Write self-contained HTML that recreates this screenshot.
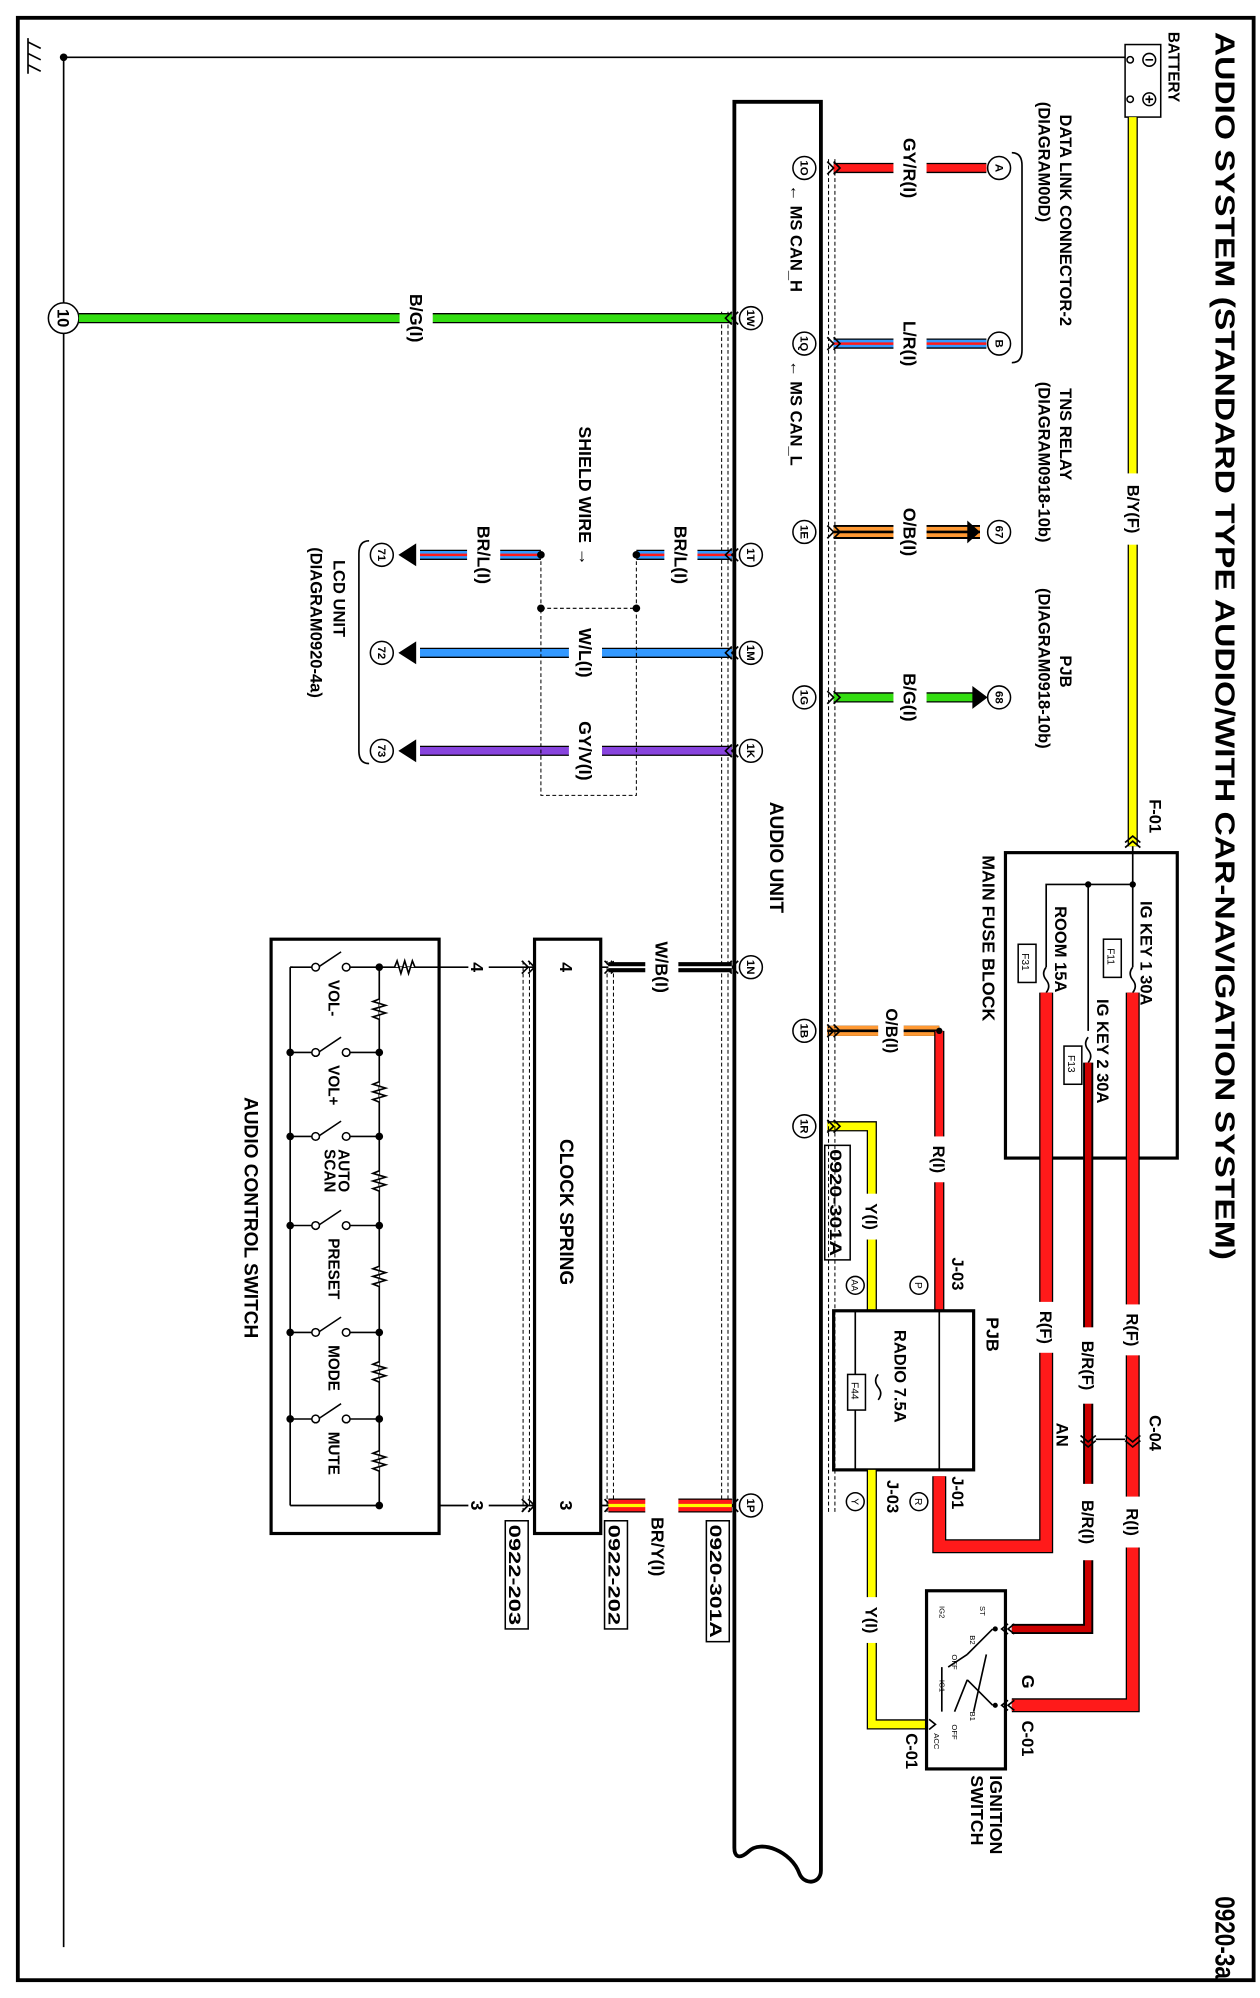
<!DOCTYPE html>
<html><head><meta charset="utf-8"><style>
html,body{margin:0;padding:0;background:#fff}
svg{display:block}
text{font-family:"Liberation Sans",Arial,sans-serif;fill:#000}
.o{stroke:#000;fill:none;stroke-width:8}
.o2{stroke:#000;fill:none;stroke-width:11}
.t{stroke:#000;fill:none;stroke-width:1.3}
.r{stroke:#ff1a1a;fill:none;stroke-width:6}
.rb{stroke:#ff1a1a;fill:none;stroke-width:9}
.y{stroke:#ffff00;fill:none;stroke-width:6}
.g{stroke:#33dd11;fill:none;stroke-width:6}
.b{stroke:#3399ff;fill:none;stroke-width:6}
.or{stroke:#ff9933;fill:none;stroke-width:8}
.p{stroke:#8844dd;fill:none;stroke-width:6}
.dr{stroke:#cc0000;fill:none;stroke-width:5}
.sk{stroke:#000;fill:none;stroke-width:2}
.sr{stroke:#ff1a1a;fill:none;stroke-width:2}
.sy{stroke:#ffff00;fill:none;stroke-width:2.5}
.sw{stroke:#fff;fill:none;stroke-width:1.5}
.d{stroke:#000;fill:none;stroke-width:0.8;stroke-dasharray:3,2}
.c{fill:#fff;stroke:#000;stroke-width:1.2}
</style></head><body>
<svg width="1260" height="1998" viewBox="0 0 990 1570" preserveAspectRatio="none" xmlns="http://www.w3.org/2000/svg">
<rect x="14" y="14" width="971" height="1542" fill="none" stroke="#000" stroke-width="3"/>
<text transform="translate(955,25) rotate(90)" font-size="22" font-weight="bold" textLength="965" lengthAdjust="spacingAndGlyphs">AUDIO SYSTEM (STANDARD TYPE AUDIO/WITH CAR-NAVIGATION SYSTEM)</text>
<text transform="translate(955,1490) rotate(90)" font-size="22" font-weight="bold" textLength="65" lengthAdjust="spacingAndGlyphs">0920-3a</text>

<!-- ground -->
<path d="M50 45 H885 M50 45 V1530" class="t"/>
<circle cx="50" cy="45" r="3"/>
<path d="M22 30 V58 M22 33 L32 38 M22 42 L32 47 M22 51 L32 56" class="t" stroke-width="2"/>
<circle cx="50" cy="250" r="12" class="c"/>
<text transform="translate(45,250) rotate(90)" font-size="13" font-weight="bold" text-anchor="middle">10</text>

<!-- battery -->
<rect x="884" y="35" width="28" height="57" class="c" stroke-width="2"/>
<circle cx="903" cy="47" r="5" class="c"/><path d="M900 47 H906" class="t"/>
<circle cx="903" cy="78" r="5" class="c"/><path d="M900 78 H906 M903 75 V81" class="t"/>
<circle cx="888" cy="47" r="2.5" class="c"/><circle cx="888" cy="78" r="2.5" class="c"/>
<text transform="translate(918,25) rotate(90)" font-size="12" font-weight="bold">BATTERY</text>

<!-- B/Y(F) -->
<path d="M890 92 V665" class="o"/><path d="M890 92 V665" class="y"/>
<rect x="882" y="372" width="18" height="56" fill="#fff"/>
<text transform="translate(886,400) rotate(90)" font-size="13" font-weight="bold" text-anchor="middle">B/Y(F)</text>
<text transform="translate(903,628) rotate(90)" font-size="13" font-weight="bold">F-01</text>
<path d="M884 662 l6 -5 l6 5 M884 666 l6 -5 l6 5" class="t"/>

<!-- main fuse block -->
<rect x="790" y="670" width="135" height="240" fill="none" stroke="#000" stroke-width="2.5"/>
<path d="M890 665 V760 M890 695 H822 V760 M855 695 V810" class="t"/>
<circle cx="890" cy="695" r="2.5"/><circle cx="855" cy="695" r="2.5"/>
<path d="M890 760 q-4 5 0 10 q4 5 0 10 M822 760 q-4 5 0 10 q4 5 0 10 M855 815 q-4 5 0 10 q4 5 0 10" class="t"/>
<rect x="867" y="738" width="14" height="30" class="c"/><text transform="translate(870,745) rotate(90)" font-size="8">F11</text>
<rect x="800" y="742" width="14" height="30" class="c"/><text transform="translate(803,749) rotate(90)" font-size="8">F31</text>
<rect x="836" y="822" width="14" height="30" class="c"/><text transform="translate(839,829) rotate(90)" font-size="8">F13</text>
<text transform="translate(896,708) rotate(90)" font-size="13" font-weight="bold">IG KEY 1 30A</text>
<text transform="translate(862,785) rotate(90)" font-size="13" font-weight="bold">IG KEY 2 30A</text>
<text transform="translate(829,712) rotate(90)" font-size="13" font-weight="bold">ROOM 15A</text>
<text transform="translate(772,672) rotate(90)" font-size="14" font-weight="bold">MAIN FUSE BLOCK</text>

<!-- red feeds -->
<path d="M890 780 V1340 H795" class="o2"/><path d="M890 780 V1340 H795" class="rb"/>
<path d="M855 835 V1280 H795" class="o"/><path d="M855 835 V1280 H795" class="dr"/>
<path d="M822 780 V1215 H738 V1160" class="o2"/><path d="M822 780 V1215 H738 V1160" class="rb"/>
<rect x="880" y="1025" width="20" height="40" fill="#fff"/><text transform="translate(885,1045) rotate(90)" font-size="13" font-weight="bold" text-anchor="middle">R(F)</text>
<rect x="845" y="1043" width="20" height="60" fill="#fff"/><text transform="translate(850,1073) rotate(90)" font-size="13" font-weight="bold" text-anchor="middle">B/R(F)</text>
<rect x="812" y="1023" width="20" height="40" fill="#fff"/><text transform="translate(817,1043) rotate(90)" font-size="13" font-weight="bold" text-anchor="middle">R(F)</text>
<rect x="880" y="1176" width="20" height="40" fill="#fff"/><text transform="translate(885,1196) rotate(90)" font-size="13" font-weight="bold" text-anchor="middle">R(I)</text>
<rect x="845" y="1166" width="20" height="60" fill="#fff"/><text transform="translate(850,1196) rotate(90)" font-size="13" font-weight="bold" text-anchor="middle">B/R(I)</text>
<path d="M849 1128 l6 5 l6 -5 M849 1132 l6 5 l6 -5 M884 1128 l6 5 l6 -5 M884 1132 l6 5 l6 -5 M861 1131 H884" class="t"/>
<text transform="translate(903,1112) rotate(90)" font-size="13" font-weight="bold">C-04</text>
<text transform="translate(830,1118) rotate(90)" font-size="13" font-weight="bold">AN</text>

<!-- O/B and R(I) to PJB -->
<path d="M650 810 H738" class="o"/><path d="M650 810 H738" class="or"/><path d="M650 810 H738" class="sk"/>
<path d="M738 810 V1030" class="o"/><path d="M738 810 V1030" class="r"/>
<circle cx="738" cy="810" r="2.5"/>
<rect x="690" y="785" width="20" height="50" fill="#fff"/><text transform="translate(696,810) rotate(90)" font-size="13" font-weight="bold" text-anchor="middle">O/B(I)</text>
<rect x="728" y="893" width="20" height="36" fill="#fff"/><text transform="translate(733,911) rotate(90)" font-size="13" font-weight="bold" text-anchor="middle">R(I)</text>
<path d="M650 885 H685 V1030" class="o"/><path d="M650 885 H685 V1030" class="y"/>
<rect x="675" y="938" width="20" height="36" fill="#fff"/><text transform="translate(680,956) rotate(90)" font-size="13" font-weight="bold" text-anchor="middle">Y(I)</text>
<rect x="648" y="900" width="20" height="90" class="c"/><text transform="translate(652,903) rotate(90)" font-size="13" font-weight="bold" textLength="84" lengthAdjust="spacingAndGlyphs">0920-301A</text>
<text transform="translate(748,988) rotate(90)" font-size="13" font-weight="bold">J-03</text>
<circle cx="722" cy="1010" r="7" class="c"/><text transform="translate(719,1010) rotate(90)" font-size="8" text-anchor="middle">P</text>
<circle cx="672" cy="1010" r="7" class="c"/><text transform="translate(669,1010) rotate(90)" font-size="7" text-anchor="middle">AA</text>

<!-- PJB -->
<rect x="655" y="1030" width="110" height="125" fill="none" stroke="#000" stroke-width="2.5"/>
<path d="M672 1030 V1155 M738 1030 V1155" class="t"/>
<text transform="translate(775,1035) rotate(90)" font-size="14" font-weight="bold">PJB</text>
<text transform="translate(703,1045) rotate(90)" font-size="13" font-weight="bold">RADIO 7.5A</text>
<path d="M690 1080 q-4 5 0 10 q4 5 0 10" class="t"/>
<rect x="666" y="1080" width="14" height="28" class="c"/><text transform="translate(669,1086) rotate(90)" font-size="8">F44</text>
<text transform="translate(748,1160) rotate(90)" font-size="13" font-weight="bold">J-01</text>
<text transform="translate(697,1163) rotate(90)" font-size="13" font-weight="bold">J-03</text>
<circle cx="722" cy="1180" r="7" class="c"/><text transform="translate(719,1180) rotate(90)" font-size="8" text-anchor="middle">R</text>
<circle cx="672" cy="1180" r="7" class="c"/><text transform="translate(669,1180) rotate(90)" font-size="8" text-anchor="middle">Y</text>
<path d="M685 1155 V1355 H728" class="o"/><path d="M685 1155 V1355 H728" class="y"/>
<rect x="675" y="1255" width="20" height="36" fill="#fff"/><text transform="translate(680,1273) rotate(90)" font-size="13" font-weight="bold" text-anchor="middle">Y(I)</text>

<!-- ignition switch -->
<rect x="728" y="1250" width="62" height="140" fill="#fff" stroke="#000" stroke-width="2.5"/>
<path d="M780 1280 L760 1300 M780 1340 L760 1320 M760 1300 L745 1310 M760 1320 L750 1345 M740 1310 V1345 M775 1300 L765 1345" class="t"/>
<circle cx="782" cy="1280" r="2"/><circle cx="782" cy="1340" r="2"/>
<text transform="translate(770,1262) rotate(90)" font-size="6">ST</text>
<text transform="translate(738,1262) rotate(90)" font-size="6">IG2</text>
<text transform="translate(762,1285) rotate(90)" font-size="6">B2</text>
<text transform="translate(748,1300) rotate(90)" font-size="6">OFF</text>
<text transform="translate(738,1320) rotate(90)" font-size="6">IG1</text>
<text transform="translate(762,1345) rotate(90)" font-size="6">B1</text>
<text transform="translate(748,1355) rotate(90)" font-size="6">OFF</text>
<text transform="translate(734,1362) rotate(90)" font-size="6">ACC</text>
<path d="M792 1276 l-5 4 l5 4 M797 1276 l-5 4 l5 4 M792 1336 l-5 4 l5 4 M797 1336 l-5 4 l5 4 M730 1351 l5 4 l-5 4" class="t"/>
<text transform="translate(803,1316) rotate(90)" font-size="14" font-weight="bold">G</text>
<text transform="translate(803,1352) rotate(90)" font-size="13" font-weight="bold">C-01</text>
<text transform="translate(712,1362) rotate(90)" font-size="13" font-weight="bold">C-01</text>
<text transform="translate(778,1395) rotate(90)" font-size="14" font-weight="bold">IGNITION</text>
<text transform="translate(763,1395) rotate(90)" font-size="14" font-weight="bold">SWITCH</text>

<!-- audio unit -->
<path d="M577 80 H645 V1470 C645 1480 632 1482 628 1472 C622 1455 598 1445 588 1455 C580 1462 577 1458 577 1452 Z" fill="none" stroke="#000" stroke-width="3"/>
<text transform="translate(605,630) rotate(90)" font-size="15" font-weight="bold">AUDIO UNIT</text>
<path d="M651 125 V1190 M656 125 V1190 M567 245 V1190 M572 245 V1190 M477 755 V1190 M482 755 V1190 M411 755 V1190 M416 755 V1190" class="d"/>

<!-- pins -->
<g font-size="9" font-weight="bold" text-anchor="middle">
<circle cx="632" cy="132" r="9" class="c"/><text transform="translate(629,132) rotate(90)">1O</text>
<circle cx="632" cy="270" r="9" class="c"/><text transform="translate(629,270) rotate(90)">1Q</text>
<circle cx="632" cy="418" r="9" class="c"/><text transform="translate(629,418) rotate(90)">1E</text>
<circle cx="632" cy="548" r="9" class="c"/><text transform="translate(629,548) rotate(90)">1G</text>
<circle cx="632" cy="810" r="9" class="c"/><text transform="translate(629,810) rotate(90)">1B</text>
<circle cx="632" cy="885" r="9" class="c"/><text transform="translate(629,885) rotate(90)">1R</text>
<circle cx="590" cy="250" r="9" class="c"/><text transform="translate(587,250) rotate(90)">1W</text>
<circle cx="590" cy="436" r="9" class="c"/><text transform="translate(587,436) rotate(90)">1T</text>
<circle cx="590" cy="513" r="9" class="c"/><text transform="translate(587,513) rotate(90)">1M</text>
<circle cx="590" cy="590" r="9" class="c"/><text transform="translate(587,590) rotate(90)">1K</text>
<circle cx="590" cy="760" r="9" class="c"/><text transform="translate(587,760) rotate(90)">1N</text>
<circle cx="590" cy="1183" r="9" class="c"/><text transform="translate(587,1183) rotate(90)">1P</text>
<circle cx="785" cy="132" r="9" class="c"/><text transform="translate(782,132) rotate(90)">A</text>
<circle cx="785" cy="270" r="9" class="c"/><text transform="translate(782,270) rotate(90)">B</text>
<circle cx="785" cy="418" r="9" class="c"/><text transform="translate(782,418) rotate(90)">67</text>
<circle cx="785" cy="548" r="9" class="c"/><text transform="translate(782,548) rotate(90)">68</text>
<circle cx="300" cy="436" r="9" class="c"/><text transform="translate(297,436) rotate(90)">71</text>
<circle cx="300" cy="513" r="9" class="c"/><text transform="translate(297,513) rotate(90)">72</text>
<circle cx="300" cy="590" r="9" class="c"/><text transform="translate(297,590) rotate(90)">73</text>
</g>
<text transform="translate(621,145) rotate(90)" font-size="13" font-weight="bold">← MS CAN_H</text>
<text transform="translate(621,283) rotate(90)" font-size="13" font-weight="bold">← MS CAN_L</text>

<!-- right wires -->
<path d="M655 132 H775" class="o"/><path d="M655 132 H775" class="r"/>
<path d="M655 270 H775" class="o"/><path d="M655 270 H775" class="b"/><path d="M655 270 H775" class="sr"/>
<path d="M655 418 H770" class="o2"/><path d="M655 418 H770" class="or"/><path d="M655 418 H770" class="sk"/>
<path d="M655 548 H765" class="o"/><path d="M655 548 H765" class="g"/>
<path d="M770 418 l-10 -9 v18 z"/><path d="M776 548 l-12 -9 v18 z"/>
<g font-size="14" font-weight="bold" text-anchor="middle">
<rect x="702" y="100" width="26" height="64" fill="#fff"/><text transform="translate(710,132) rotate(90)">GY/R(I)</text>
<rect x="702" y="245" width="26" height="50" fill="#fff"/><text transform="translate(710,270) rotate(90)">L/R(I)</text>
<rect x="702" y="390" width="26" height="56" fill="#fff"/><text transform="translate(710,418) rotate(90)">O/B(I)</text>
<rect x="702" y="520" width="26" height="56" fill="#fff"/><text transform="translate(710,548) rotate(90)">B/G(I)</text>
</g>
<path d="M655 127 l5 5 l-5 5 M650 127 l5 5 l-5 5 M655 265 l5 5 l-5 5 M650 265 l5 5 l-5 5 M655 413 l5 5 l-5 5 M650 413 l5 5 l-5 5 M655 543 l5 5 l-5 5 M650 543 l5 5 l-5 5 M655 805 l5 5 l-5 5 M650 805 l5 5 l-5 5 M655 880 l5 5 l-5 5 M650 880 l5 5 l-5 5" class="t"/>
<path d="M795 120 q8 0 8 10 V275 q0 10 -8 10" class="t"/>
<text transform="translate(833,90) rotate(90)" font-size="13" font-weight="bold">DATA LINK CONNECTOR-2</text>
<text transform="translate(816,80) rotate(90)" font-size="13" font-weight="bold">(DIAGRAM00D)</text>
<text transform="translate(833,305) rotate(90)" font-size="13" font-weight="bold">TNS RELAY</text>
<text transform="translate(816,300) rotate(90)" font-size="13" font-weight="bold">(DIAGRAM0918-10b)</text>
<text transform="translate(833,515) rotate(90)" font-size="13" font-weight="bold">PJB</text>
<text transform="translate(816,462) rotate(90)" font-size="13" font-weight="bold">(DIAGRAM0918-10b)</text>

<!-- left wires -->
<path d="M62 250 H575" class="o"/><path d="M62 250 H575" class="g"/>
<rect x="314" y="222" width="26" height="56" fill="#fff"/><text transform="translate(322,250) rotate(90)" font-size="14" font-weight="bold" text-anchor="middle">B/G(I)</text>
<path d="M500 436 H575" class="o"/><path d="M500 436 H575" class="b"/><path d="M500 436 H575" class="sr"/>
<path d="M330 436 H425" class="o"/><path d="M330 436 H425" class="b"/><path d="M330 436 H425" class="sr"/>
<path d="M330 513 H575" class="o"/><path d="M330 513 H575" class="b"/>
<path d="M330 590 H575" class="o"/><path d="M330 590 H575" class="p"/>
<path d="M313 436 l14 -9 v18 z M313 513 l14 -9 v18 z M313 590 l14 -9 v18 z"/>
<circle cx="500" cy="436" r="3"/><circle cx="425" cy="436" r="3"/>
<circle cx="500" cy="478" r="3"/><circle cx="425" cy="478" r="3"/>
<path d="M500 436 V478 M425 436 V478" class="d"/>
<rect x="425" y="478" width="75" height="147" class="d"/>
<g font-size="14" font-weight="bold" text-anchor="middle">
<rect x="522" y="405" width="26" height="62" fill="#fff"/><text transform="translate(530,436) rotate(90)">BR/L(I)</text>
<rect x="367" y="405" width="26" height="62" fill="#fff"/><text transform="translate(375,436) rotate(90)">BR/L(I)</text>
<rect x="447" y="485" width="26" height="56" fill="#fff"/><text transform="translate(455,513) rotate(90)">W/L(I)</text>
<rect x="447" y="558" width="26" height="64" fill="#fff"/><text transform="translate(455,590) rotate(90)">GY/V(I)</text>
</g>
<text transform="translate(455,335) rotate(90)" font-size="14" font-weight="bold">SHIELD WIRE →</text>
<path d="M290 425 q-8 0 -8 10 V590 q0 10 8 10" class="t"/>
<text transform="translate(262,440) rotate(90)" font-size="13" font-weight="bold">LCD UNIT</text>
<text transform="translate(244,430) rotate(90)" font-size="13" font-weight="bold">(DIAGRAM0920-4a)</text>
<path d="M575 245 l-5 5 l5 5 M580 245 l-5 5 l5 5 M575 431 l-5 5 l5 5 M580 431 l-5 5 l5 5 M575 508 l-5 5 l5 5 M580 508 l-5 5 l5 5 M575 585 l-5 5 l5 5 M580 585 l-5 5 l5 5 M575 755 l-5 5 l5 5 M580 755 l-5 5 l5 5 M575 1178 l-5 5 l5 5 M580 1178 l-5 5 l5 5 M475 755 l5 5 l-5 5 M480 755 l5 5 l-5 5 M475 1178 l5 5 l-5 5 M480 1178 l5 5 l-5 5 M410 755 l5 5 l-5 5 M415 755 l5 5 l-5 5 M410 1178 l5 5 l-5 5 M415 1178 l5 5 l-5 5" class="t"/>

<!-- W/B and BR/Y -->
<path d="M478 760 H575" class="o"/><path d="M478 760 H575" class="sw"/>
<rect x="507" y="730" width="26" height="56" fill="#fff"/><text transform="translate(515,760) rotate(90)" font-size="14" font-weight="bold" text-anchor="middle">W/B(I)</text>
<path d="M478 1183 H575" class="o2"/><path d="M478 1183 H575" class="rb"/><path d="M478 1183 H575" class="sy"/>
<rect x="507" y="1176" width="26" height="14" fill="#fff"/>
<text transform="translate(512,1192) rotate(90)" font-size="14" font-weight="bold">BR/Y(I)</text>
<rect x="555" y="1195" width="18" height="95" class="c"/><text transform="translate(558,1198) rotate(90)" font-size="13" font-weight="bold" textLength="89" lengthAdjust="spacingAndGlyphs">0920-301A</text>
<rect x="475" y="1195" width="18" height="85" class="c"/><text transform="translate(478,1198) rotate(90)" font-size="13" font-weight="bold" textLength="79" lengthAdjust="spacingAndGlyphs">0922-202</text>
<rect x="397" y="1195" width="18" height="85" class="c"/><text transform="translate(400,1198) rotate(90)" font-size="13" font-weight="bold" textLength="79" lengthAdjust="spacingAndGlyphs">0922-203</text>

<!-- clock spring -->
<rect x="420" y="738" width="52" height="467" fill="none" stroke="#000" stroke-width="2.5"/>
<text transform="translate(440,895) rotate(90)" font-size="15" font-weight="bold">CLOCK SPRING</text>
<path d="M472 760 H478 M345 760 H420 M345 1183 H420 M472 1183 H478" class="t"/>
<g font-size="14" font-weight="bold" text-anchor="middle">
<rect x="368" y="754" width="16" height="12" fill="#fff"/><text transform="translate(370,760) rotate(90)">4</text>
<rect x="368" y="1177" width="16" height="12" fill="#fff"/><text transform="translate(370,1183) rotate(90)">3</text>
<text transform="translate(440,760) rotate(90)">4</text>
<text transform="translate(440,1183) rotate(90)">3</text>
</g>

<!-- audio control switch -->
<rect x="213" y="738" width="132" height="467" fill="none" stroke="#000" stroke-width="2.5"/>
<path d="M228 760 H345 M228 1183 H298 M228 760 V1183 M298 760 V1183" class="t"/>
<path d="M310 760 l2 -5 l3 10 l3 -10 l3 10 l3 -10 l2 5" fill="#fff" stroke="#000" stroke-width="1.3"/>
<g fill="#fff" stroke="#000" stroke-width="1.3">
<path d="M298 785 l-5 2 l10 3 l-10 3 l10 3 l-10 3 l5 2"/>
<path d="M298 850 l-5 2 l10 3 l-10 3 l10 3 l-10 3 l5 2"/>
<path d="M298 920 l-5 2 l10 3 l-10 3 l10 3 l-10 3 l5 2"/>
<path d="M298 995 l-5 2 l10 3 l-10 3 l10 3 l-10 3 l5 2"/>
<path d="M298 1070 l-5 2 l10 3 l-10 3 l10 3 l-10 3 l5 2"/>
<path d="M298 1140 l-5 2 l10 3 l-10 3 l10 3 l-10 3 l5 2"/>
</g>
<g fill="#fff" stroke="#000" stroke-width="1.2">
<rect x="230" y="757" width="66" height="6" stroke="none"/>
<path d="M228 760 H246 M272 760 H298 M250 760 L268 748"/><circle cx="248" cy="760" r="3"/><circle cx="272" cy="760" r="3"/>
<path d="M228 827 H246 M272 827 H298 M250 827 L268 815"/><circle cx="248" cy="827" r="3"/><circle cx="272" cy="827" r="3"/>
<path d="M228 893 H246 M272 893 H298 M250 893 L268 881"/><circle cx="248" cy="893" r="3"/><circle cx="272" cy="893" r="3"/>
<path d="M228 963 H246 M272 963 H298 M250 963 L268 951"/><circle cx="248" cy="963" r="3"/><circle cx="272" cy="963" r="3"/>
<path d="M228 1047 H246 M272 1047 H298 M250 1047 L268 1035"/><circle cx="248" cy="1047" r="3"/><circle cx="272" cy="1047" r="3"/>
<path d="M228 1115 H246 M272 1115 H298 M250 1115 L268 1103"/><circle cx="248" cy="1115" r="3"/><circle cx="272" cy="1115" r="3"/>
</g>
<g>
<circle cx="298" cy="760" r="3"/><circle cx="298" cy="827" r="3"/><circle cx="298" cy="893" r="3"/><circle cx="298" cy="963" r="3"/><circle cx="298" cy="1047" r="3"/><circle cx="298" cy="1115" r="3"/><circle cx="298" cy="1183" r="3"/>
<circle cx="228" cy="827" r="3"/><circle cx="228" cy="893" r="3"/><circle cx="228" cy="963" r="3"/><circle cx="228" cy="1047" r="3"/><circle cx="228" cy="1115" r="3"/>
</g>
<g font-size="12" font-weight="bold">
<text transform="translate(258,770) rotate(90)">VOL-</text>
<text transform="translate(258,837) rotate(90)">VOL+</text>
<text transform="translate(266,903) rotate(90)">AUTO</text>
<text transform="translate(255,903) rotate(90)">SCAN</text>
<text transform="translate(258,973) rotate(90)">PRESET</text>
<text transform="translate(258,1057) rotate(90)">MODE</text>
<text transform="translate(258,1125) rotate(90)">MUTE</text>
</g>
<text transform="translate(192,862) rotate(90)" font-size="15" font-weight="bold">AUDIO CONTROL SWITCH</text>
</svg>
</body></html>
